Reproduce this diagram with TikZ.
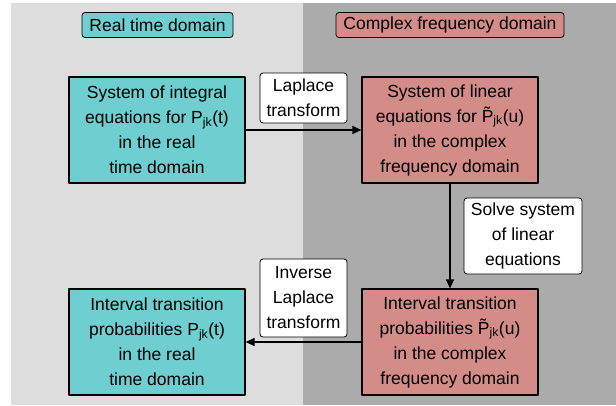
\documentclass[tikz,border=0pt]{standalone}
\usepackage{fontspec}
\setmainfont{Liberation Sans}
\usetikzlibrary{arrows.meta}
\definecolor{realfill}{RGB}{110,206,208}
\definecolor{cplxfill}{RGB}{212,140,136}
\definecolor{realbg}{RGB}{221,221,221}
\definecolor{cplxbg}{RGB}{171,171,171}
\newcommand{\Pjk}[1]{P\textsubscript{jk}(#1)}
\newcommand{\Ptjk}[1]{\~{P}\textsubscript{jk}(#1)}

\begin{document}
\begin{tikzpicture}[x=1pt,y=-1pt,line cap=round,line join=round,>={Triangle[length=9pt,width=8pt]},
	txt/.style={font=\fontsize{17.5}{25}\selectfont,align=center,inner sep=0pt},
	box/.style={txt,draw,line width=1.2pt,minimum width=176pt,minimum height=106pt},
	head/.style={txt,draw,line width=0.8pt,rounded corners=3pt,minimum height=25pt},
	step label/.style={txt,draw,fill=white,line width=0.8pt,rounded corners=3pt}]
	\useasboundingbox (0,0) rectangle (616,405);
	% domain panels
	\fill [realbg] (11,3) rectangle (303,405);
	\fill [cplxbg] (303,3) rectangle (616,405);
	\node [head,fill=realfill,minimum width=151pt] (realhead) at (157.5,25) {Real time domain};
	\node [head,fill=cplxfill,minimum width=228pt] (cplxhead) at (450,25) {Complex frequency domain};
	% boxes
	\node [box,fill=realfill] (inteq) at (157,130) {System of integral\\equations for \Pjk{t}\\in the real\\time domain};
	\node [box,fill=cplxfill] (lineq) at (450,130) {System of linear\\equations for \Ptjk{u}\\in the complex\\frequency domain};
	\node [box,fill=cplxfill] (cplxprob) at (450,342) {Interval transition\\probabilities \Ptjk{u}\\in the complex\\frequency domain};
	\node [box,fill=realfill] (realprob) at (157,342) {Interval transition\\probabilities \Pjk{t}\\in the real\\time domain};
	% arrows
	\draw [->,line width=1.2pt] (inteq.east) -- (lineq.west);
	\draw [->,line width=1.2pt] (lineq.south) -- (cplxprob.north);
	\draw [->,line width=1.2pt] (cplxprob.west) -- (realprob.east);
	\node [step label,minimum width=87pt,minimum height=50pt] (laplace) at (303.5,98) {Laplace\\transform};
	\node [step label,minimum width=118pt,minimum height=76pt] (solve) at (523,236) {Solve system\\of linear\\equations};
	\node [step label,minimum width=87pt,minimum height=78pt] (inverse) at (303.5,298) {Inverse\\Laplace\\transform};
\end{tikzpicture}
\end{document}
